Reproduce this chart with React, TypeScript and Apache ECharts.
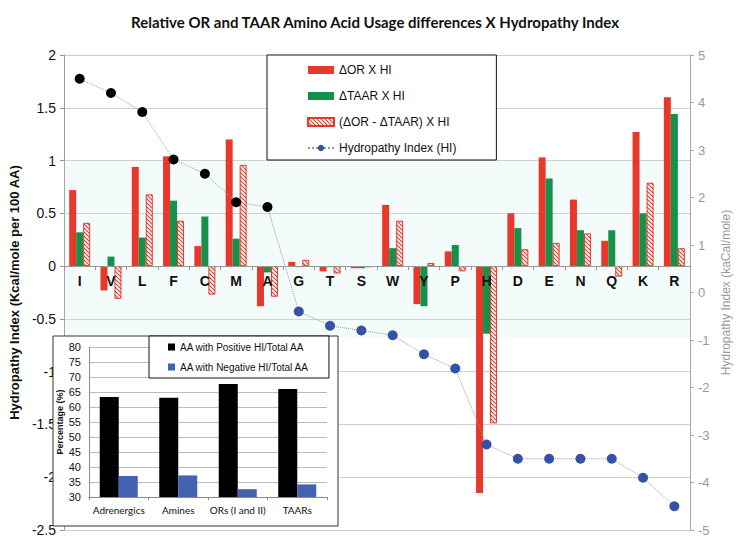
import React, { useEffect, useRef } from 'react';
import * as echarts from 'echarts';

const aminoAcids = ['I', 'V', 'L', 'F', 'C', 'M', 'A', 'G', 'T', 'S', 'W', 'Y', 'P', 'H', 'D', 'E', 'N', 'Q', 'K', 'R'];
const deltaOR = [0.72, -0.23, 0.94, 1.04, 0.19, 1.2, -0.38, 0.04, -0.05, -0.02, 0.58, -0.36, 0.14, -2.15, 0.5, 1.03, 0.63, 0.24, 1.27, 1.6];
const deltaTAAR = [0.32, 0.09, 0.27, 0.62, 0.47, 0.26, -0.06, -0.01, -0.01, -0.02, 0.17, -0.38, 0.2, -0.64, 0.36, 0.83, 0.34, 0.34, 0.5, 1.44];
const deltaDiff = [0.41, -0.31, 0.68, 0.43, -0.27, 0.96, -0.29, 0.06, -0.07, -0.01, 0.43, 0.03, -0.05, -1.49, 0.16, 0.22, 0.31, -0.1, 0.79, 0.17];
const hydropathy = [4.5, 4.2, 3.8, 2.8, 2.5, 1.9, 1.8, -0.4, -0.7, -0.8, -0.9, -1.3, -1.6, -3.2, -3.5, -3.5, -3.5, -3.5, -3.9, -4.5];

const receptorGroups = ['Adrenergics', 'Amines', 'ORs (I and II)', 'TAARs'];
const positiveShare = [63.3, 63.1, 67.7, 66.0];
const negativeShare = [37.0, 37.2, 32.6, 34.2];

const RED = '#e8382b';
const GREEN = '#15914a';
const DOT_BLUE = '#3352a8';
const BAR_BLUE = '#4262b2';
const FONT = 'Liberation Sans, Arial, sans-serif';

// left axis range, used to place the category axis on the zero line
const LEFT_MIN = -2.5;
const LEFT_MAX = 2;
const GRID_TOP = 55;
const GRID_BOTTOM = 20;
const PLOT_HEIGHT = 550 - GRID_TOP - GRID_BOTTOM;

function makeHatch(): any {
  const c = document.createElement('canvas');
  c.width = 4;
  c.height = 4;
  const ctx = c.getContext('2d');
  if (ctx) {
    ctx.fillStyle = '#fff';
    ctx.fillRect(0, 0, 4, 4);
    ctx.strokeStyle = RED;
    ctx.lineWidth = 1.1;
    ctx.beginPath();
    ctx.moveTo(-1, -1);
    ctx.lineTo(5, 5);
    ctx.moveTo(-1, 3);
    ctx.lineTo(1, 5);
    ctx.moveTo(3, -1);
    ctx.lineTo(5, 1);
    ctx.stroke();
  }
  return { image: c, repeat: 'repeat' };
}

export default function App() {
  const ref = useRef<HTMLDivElement>(null);
  useEffect(() => {
    if (!ref.current) return;
    const chart = echarts.init(ref.current, undefined, { renderer: 'svg' });
    const zeroOffset = -(PLOT_HEIGHT * (0 - LEFT_MIN)) / (LEFT_MAX - LEFT_MIN);
    const option: any = {
      animation: false,
      backgroundColor: '#fff',
      textStyle: { fontFamily: FONT },
      title: {
        text: 'Relative OR and TAAR Amino Acid Usage differences X Hydropathy Index',
        left: 'center',
        top: 9,
        textStyle: { fontFamily: 'Lato', fontWeight: 'bold', fontSize: 15, color: '#111' },
      },
      graphic: [
        {
          type: 'rect',
          z: 4,
          shape: { x: 53, y: 336, width: 285, height: 190 },
          style: { fill: '#fff', stroke: '#333', lineWidth: 1 },
        },
      ],
      legend: [
        {
          left: 267,
          top: 55,
          orient: 'vertical',
          backgroundColor: '#fff',
          borderColor: '#111',
          borderWidth: 1,
          borderRadius: 0,
          padding: [7, 40, 4, 40],
          itemWidth: 26,
          itemHeight: 8,
          itemGap: 10,
          z: 12,
          data: [
            { name: 'ΔOR X HI', icon: 'rect' },
            { name: 'ΔTAAR X HI', icon: 'rect' },
            { name: '(ΔOR - ΔTAAR) X HI', icon: 'rect' },
            { name: 'Hydropathy Index (HI)' },
          ],
          textStyle: { fontFamily: FONT, fontSize: 12, color: '#111', lineHeight: 16 },
        },
        {
          left: 149,
          top: 336,
          orient: 'vertical',
          backgroundColor: '#fff',
          borderColor: '#111',
          borderWidth: 1,
          borderRadius: 0,
          padding: [5, 20, 5, 19],
          itemWidth: 7,
          itemHeight: 7,
          itemGap: 8,
          z: 12,
          icon: 'rect',
          data: ['AA with Positive HI/Total AA', 'AA with Negative HI/Total AA'],
          textStyle: { fontFamily: FONT, fontSize: 10, color: '#111', lineHeight: 12 },
        },
      ],
      grid: [
        { left: 53, right: 60, top: GRID_TOP, bottom: GRID_BOTTOM },
        { left: 89, top: 347, width: 238, height: 150 },
      ],
      xAxis: [
        {
          type: 'category',
          gridIndex: 0,
          position: 'bottom',
          offset: zeroOffset,
          z: 10,
          data: aminoAcids,
          axisLine: { onZero: false, lineStyle: { color: '#999' } },
          axisTick: { show: true, alignWithLabel: false, length: 4, lineStyle: { color: '#999' } },
          axisLabel: { interval: 0, margin: 8, fontSize: 14, fontWeight: 'bold', color: '#111', fontFamily: FONT },
          splitLine: { show: false },
        },
        {
          type: 'category',
          gridIndex: 1,
          data: receptorGroups,
          z: 6,
          axisLine: { lineStyle: { color: '#888' } },
          axisTick: { show: true, alignWithLabel: false, length: 3, lineStyle: { color: '#888' } },
          axisLabel: { interval: 0, margin: 8, fontSize: 10, color: '#111', fontFamily: 'Lato' },
        },
      ],
      yAxis: [
        {
          type: 'value',
          gridIndex: 0,
          min: LEFT_MIN,
          max: LEFT_MAX,
          interval: 0.5,
          name: 'Hydropathy Index (Kcal/mole per 100 AA)',
          nameLocation: 'middle',
          nameRotate: 90,
          nameGap: 30,
          nameTextStyle: { fontSize: 13, fontWeight: 'bold', color: '#111', fontFamily: FONT },
          axisLine: { show: true, onZero: false, lineStyle: { color: '#999' } },
          axisTick: { show: true, length: 4, lineStyle: { color: '#999' } },
          axisLabel: { fontSize: 14, color: '#111', margin: 8, fontFamily: FONT },
          splitLine: { show: true, lineStyle: { color: '#cfcfcf' } },
        },
        {
          type: 'value',
          gridIndex: 0,
          position: 'right',
          min: -5,
          max: 5,
          interval: 1,
          name: 'Hydropathy Index (kaCal/mole)',
          nameLocation: 'middle',
          nameRotate: 90,
          nameGap: 28,
          nameTextStyle: { fontSize: 12, color: '#999', fontFamily: FONT },
          axisLine: { show: true, onZero: false, lineStyle: { color: '#aaa' } },
          axisTick: { show: true, length: 4, lineStyle: { color: '#aaa' } },
          axisLabel: { fontSize: 13, color: '#999', margin: 8, fontFamily: FONT },
          splitLine: { show: false },
        },
        {
          type: 'value',
          gridIndex: 1,
          min: 30,
          max: 80,
          interval: 5,
          z: 6,
          name: 'Percentage (%)',
          nameLocation: 'middle',
          nameRotate: 90,
          nameGap: 22,
          nameTextStyle: { fontSize: 9, fontWeight: 'bold', color: '#111', fontFamily: FONT },
          axisLine: { show: true, lineStyle: { color: '#888' } },
          axisTick: { show: false },
          axisLabel: { fontSize: 11, color: '#111', margin: 8, fontFamily: FONT },
          splitLine: { show: true, lineStyle: { color: '#bbb' } },
        },
      ],
      series: [
        {
          name: 'ΔOR X HI',
          type: 'bar',
          xAxisIndex: 0,
          yAxisIndex: 0,
          data: deltaOR,
          barWidth: 7,
          barGap: '0%',
          itemStyle: { color: RED },
          markArea: {
            silent: true,
            itemStyle: { color: 'rgba(200,236,236,0.2)' },
            data: [[{ yAxis: 1 }, { yAxis: -0.68 }]],
          },
        },
        {
          name: 'ΔTAAR X HI',
          type: 'bar',
          xAxisIndex: 0,
          yAxisIndex: 0,
          data: deltaTAAR,
          barWidth: 7,
          barGap: '0%',
          itemStyle: { color: GREEN },
        },
        {
          name: '(ΔOR - ΔTAAR) X HI',
          type: 'bar',
          xAxisIndex: 0,
          yAxisIndex: 0,
          data: deltaDiff,
          barWidth: 7,
          barGap: '0%',
          itemStyle: {
            color: makeHatch(),
            borderColor: RED,
            borderWidth: 1,
          },
        },
        {
          name: 'Hydropathy Index (HI)',
          type: 'line',
          xAxisIndex: 0,
          yAxisIndex: 1,
          z: 5,
          data: hydropathy.map((v) => ({ value: v, itemStyle: { color: v >= 0 ? '#000' : DOT_BLUE } })),
          symbol: 'circle',
          symbolSize: 10,
          lineStyle: { type: 'dotted', color: '#999', width: 1 },
          itemStyle: { color: DOT_BLUE },
        },
        {
          name: 'AA with Positive HI/Total AA',
          type: 'bar',
          xAxisIndex: 1,
          yAxisIndex: 2,
          z: 6,
          data: positiveShare,
          barWidth: 19,
          barGap: '0%',
          itemStyle: { color: '#000' },
        },
        {
          name: 'AA with Negative HI/Total AA',
          type: 'bar',
          xAxisIndex: 1,
          yAxisIndex: 2,
          z: 6,
          data: negativeShare,
          barWidth: 19,
          barGap: '0%',
          itemStyle: { color: BAR_BLUE },
        },
      ],
    };
    chart.setOption(option);
    return () => chart.dispose();
  }, []);
  return <div ref={ref} style={{ width: 750, height: 550, position: 'absolute', left: 0, top: 0 }} />;
}
